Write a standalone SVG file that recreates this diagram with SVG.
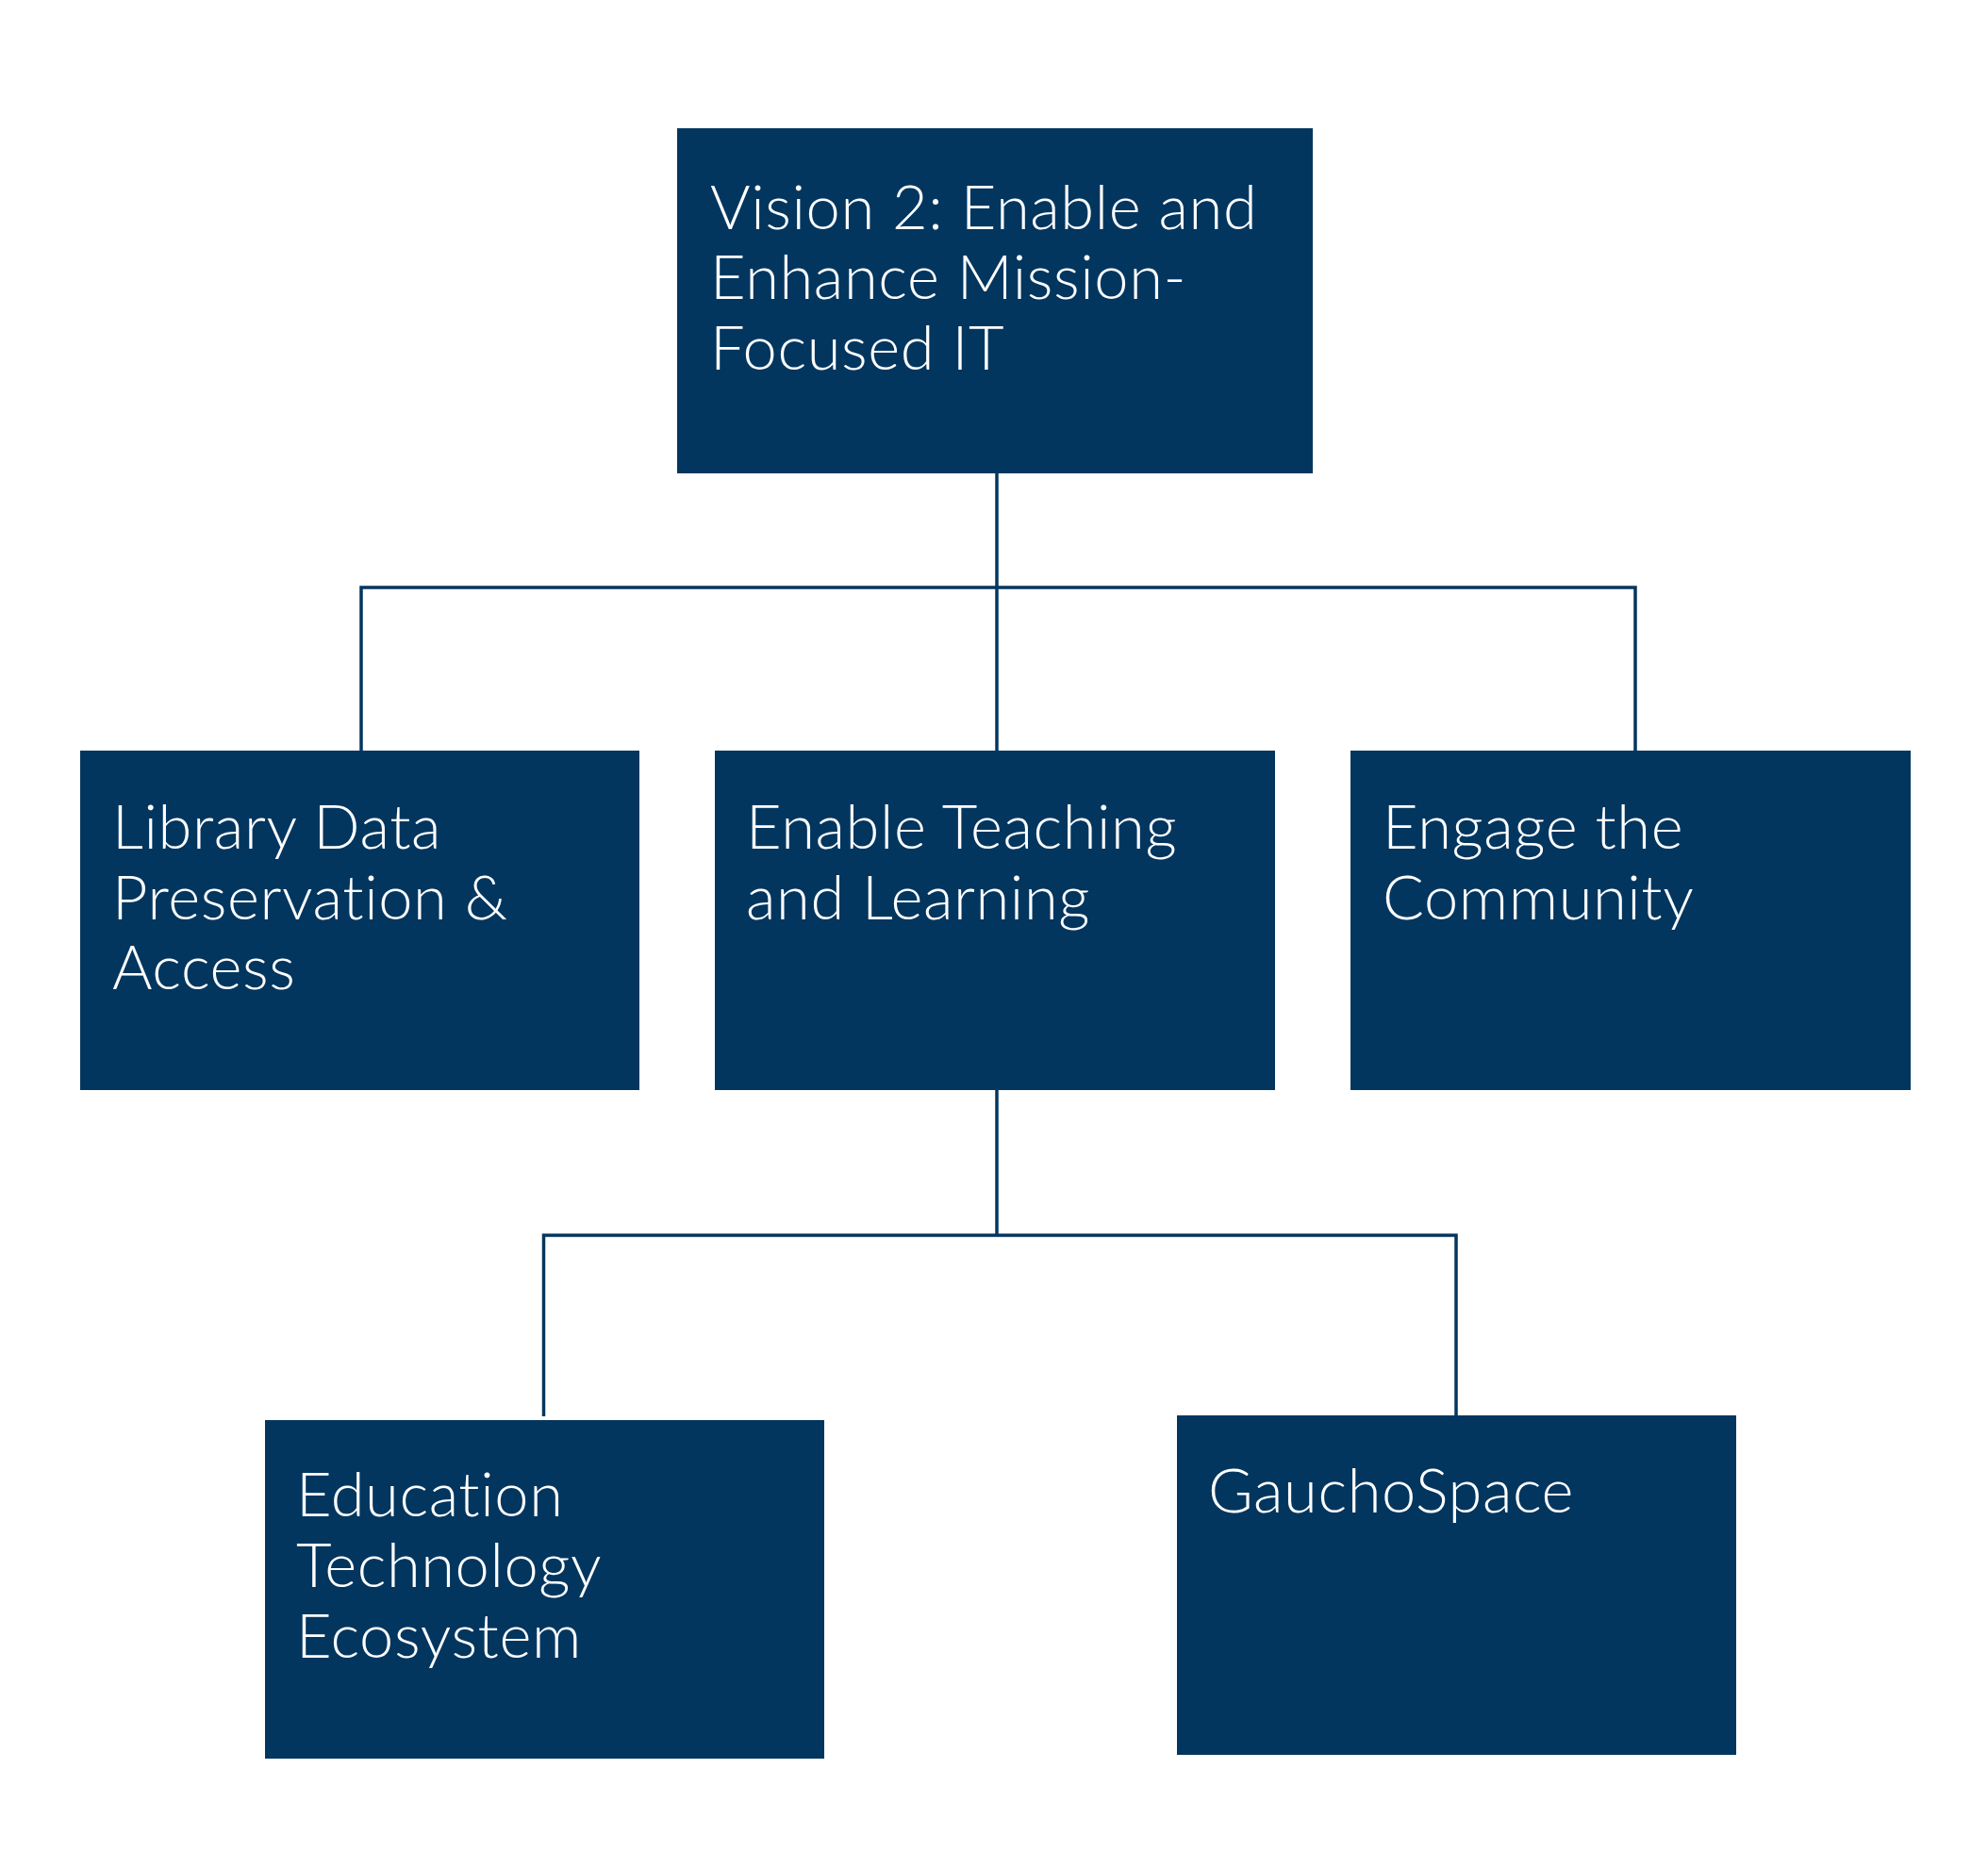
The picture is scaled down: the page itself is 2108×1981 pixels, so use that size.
<svg xmlns="http://www.w3.org/2000/svg" width="2108" height="1981" viewBox="0 0 2108 1981">
<style>
.box{fill:#03365f}
.lbl{fill:#ffffff;font-family:Lato,"Liberation Sans",sans-serif;font-weight:300;font-size:65px;letter-spacing:0.6px;font-variant-ligatures:none;font-feature-settings:"liga" 0,"clig" 0}
.conn{fill:none;stroke:#03365f;stroke-width:3.5}
</style>
<rect width="2108" height="1981" fill="#ffffff"/>
<g id="connectors">
<path class="conn" d="M1057 502 V796"/>
<path class="conn" d="M383 796 V623 H1734 V796"/>
<path class="conn" d="M1057 1156 V1310"/>
<path class="conn" d="M576.5 1502 V1310 H1544 V1501"/>
</g>
<g id="vision2">
<rect class="box" x="718" y="136" width="674" height="366"/>
<text class="lbl"><tspan x="753" y="243">Vision 2: Enable and</tspan><tspan x="753" y="317">Enhance Mission-</tspan><tspan x="753" y="392">Focused IT</tspan></text>
</g>
<g id="library">
<rect class="box" x="85" y="796" width="593" height="360"/>
<text class="lbl"><tspan x="119" y="900">Library Data</tspan><tspan x="119" y="975">Preservation &amp;</tspan><tspan x="119" y="1049">Access</tspan></text>
</g>
<g id="teaching">
<rect class="box" x="758" y="796" width="594" height="360"/>
<text class="lbl"><tspan x="791" y="900">Enable Teaching</tspan><tspan x="791" y="975">and Learning</tspan></text>
</g>
<g id="community">
<rect class="box" x="1432" y="796" width="594" height="360"/>
<text class="lbl"><tspan x="1466" y="900">Engage the</tspan><tspan x="1466" y="975">Community</tspan></text>
</g>
<g id="edtech">
<rect class="box" x="281" y="1506" width="593" height="359"/>
<text class="lbl"><tspan x="314" y="1608">Education</tspan><tspan x="314" y="1683">Technology</tspan><tspan x="314" y="1758">Ecosystem</tspan></text>
</g>
<g id="gauchospace">
<rect class="box" x="1248" y="1501" width="593" height="360"/>
<text class="lbl"><tspan x="1281" y="1604">GauchoSpace</tspan></text>
</g>
</svg>
